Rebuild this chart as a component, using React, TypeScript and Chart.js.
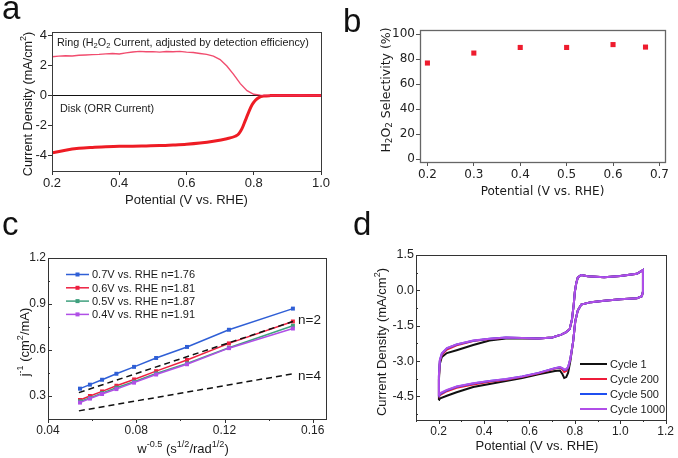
import React, { useEffect, useRef } from 'react';
import { Chart, registerables } from 'chart.js';
Chart.register(...registerables);

const SANS = '"Liberation Sans", Arial, sans-serif';
const VERD = '"DejaVu Sans", Verdana, sans-serif';

// ---------- Panel a: RRDE ----------
const A_RING_V = [0.20, 0.22, 0.24, 0.26, 0.28, 0.30, 0.32, 0.34, 0.36, 0.38, 0.40, 0.42, 0.44, 0.46, 0.48, 0.50, 0.52, 0.54, 0.56, 0.58, 0.60, 0.62, 0.64, 0.66, 0.68, 0.70, 0.72, 0.74, 0.76, 0.78, 0.80, 0.82, 0.84, 0.86, 0.88, 0.90, 0.92, 0.94, 0.96, 0.98, 1.00];
const A_RING_J = [2.56, 2.60, 2.63, 2.61, 2.66, 2.68, 2.70, 2.72, 2.75, 2.78, 2.74, 2.82, 2.88, 2.92, 2.89, 2.90, 2.87, 2.91, 2.89, 2.92, 2.87, 2.84, 2.78, 2.72, 2.60, 2.38, 1.95, 1.40, 0.78, 0.32, 0.08, 0.02, 0.00, -0.01, 0.00, 0.00, 0.00, 0.01, 0.00, 0.00, 0.00];
const A_DISK_V = [0.20, 0.24, 0.28, 0.32, 0.36, 0.40, 0.44, 0.48, 0.52, 0.56, 0.60, 0.64, 0.68, 0.72, 0.745, 0.755, 0.765, 0.775, 0.785, 0.795, 0.805, 0.815, 0.83, 0.85, 0.90, 0.95, 1.00];
const A_DISK_J = [-3.80, -3.62, -3.50, -3.44, -3.40, -3.37, -3.36, -3.34, -3.32, -3.28, -3.23, -3.15, -3.03, -2.86, -2.70, -2.55, -2.20, -1.65, -1.10, -0.62, -0.32, -0.14, -0.04, -0.01, 0.00, 0.00, 0.00];
const A_X_TICKS = [0.2, 0.4, 0.6, 0.8, 1.0];
const A_Y_TICKS = [-4, -2, 0, 2, 4];

// ---------- Panel b: selectivity ----------
const B_POTENTIAL = [0.2, 0.3, 0.4, 0.5, 0.6, 0.67];
const B_SELECTIVITY = [77, 85, 89.5, 89.5, 91.8, 89.8];
const B_X_TICKS = [0.2, 0.3, 0.4, 0.5, 0.6, 0.7];
const B_Y_TICKS = [0, 20, 40, 60, 80, 100];

// ---------- Panel c: K-L plots ----------
const C_OMEGA = [0.0545, 0.059, 0.0645, 0.071, 0.079, 0.089, 0.103, 0.122, 0.151];
const C_07V = [0.348, 0.374, 0.406, 0.445, 0.490, 0.548, 0.620, 0.732, 0.870];
const C_06V = [0.274, 0.300, 0.330, 0.367, 0.408, 0.462, 0.535, 0.643, 0.786];
const C_05V = [0.265, 0.287, 0.319, 0.354, 0.393, 0.447, 0.513, 0.615, 0.758];
const C_04V = [0.257, 0.283, 0.313, 0.345, 0.387, 0.440, 0.507, 0.612, 0.740];
const C_LABELS = ['0.7V vs. RHE n=1.76', '0.6V vs. RHE n=1.81', '0.5V vs. RHE n=1.87', '0.4V vs. RHE n=1.91'];
const C_COLORS = ['#2f5fd6', '#ee2040', '#3fa07e', '#b04fe6'];
const C_REF_X = [0.054, 0.151];
const C_N2_Y = [0.322, 0.786];
const C_N4_Y = [0.203, 0.445];
const C_X_TICKS = [0.04, 0.08, 0.12, 0.16];
const C_X_MINOR = [0.06, 0.10, 0.14];
const C_Y_TICKS = [0.3, 0.6, 0.9, 1.2];
const C_Y_MINOR = [0.45, 0.75, 1.05];

// ---------- Panel d: CV cycling ----------
const D_POT = [
  0.200, 0.201, 0.205, 0.214, 0.236, 0.279, 0.352, 0.424, 0.496, 0.568, 0.640, 0.700, 0.740, 0.760, 0.777, 0.787, 0.795, 0.800, 0.806, 0.813, 0.828, 0.857, 0.929, 1.000, 1.073, 1.100,
  1.100, 1.095, 1.073, 1.000, 0.929, 0.871, 0.828, 0.813, 0.802, 0.792, 0.780, 0.770, 0.762, 0.753, 0.745, 0.734, 0.712, 0.640, 0.568, 0.496, 0.424, 0.352, 0.279, 0.236, 0.207, 0.200,
];
const D_CYCLE1 = [
  -4.65, -3.80, -3.12, -2.82, -2.66, -2.54, -2.32, -2.13, -2.04, -2.03, -2.04, -2.00, -1.88, -1.78, -1.65, -1.25, -0.60, -0.05, 0.30, 0.55, 0.65, 0.60, 0.56, 0.61, 0.70, 0.86,
  -0.05, -0.25, -0.34, -0.38, -0.44, -0.50, -0.60, -0.85, -1.30, -2.20, -3.00, -3.50, -3.68, -3.72, -3.55, -3.40, -3.42, -3.56, -3.72, -3.85, -3.97, -4.10, -4.32, -4.47, -4.58, -4.65,
];
const D_CYCLE200 = [
  -4.53, -3.68, -3.02, -2.73, -2.51, -2.33, -2.15, -2.06, -2.01, -2.02, -2.04, -2.00, -1.88, -1.78, -1.65, -1.25, -0.60, -0.05, 0.30, 0.55, 0.65, 0.60, 0.56, 0.61, 0.70, 0.86,
  -0.05, -0.25, -0.34, -0.38, -0.44, -0.50, -0.60, -0.85, -1.30, -2.20, -2.92, -3.30, -3.42, -3.46, -3.36, -3.28, -3.32, -3.52, -3.67, -3.79, -3.88, -3.99, -4.13, -4.28, -4.43, -4.53,
];
const D_CYCLE500 = [
  -4.50, -3.62, -2.97, -2.68, -2.46, -2.30, -2.14, -2.05, -2.00, -2.02, -2.04, -2.00, -1.88, -1.78, -1.65, -1.25, -0.60, -0.05, 0.30, 0.55, 0.65, 0.60, 0.56, 0.61, 0.70, 0.86,
  -0.05, -0.25, -0.34, -0.38, -0.44, -0.50, -0.60, -0.85, -1.30, -2.20, -2.90, -3.27, -3.36, -3.38, -3.31, -3.26, -3.30, -3.50, -3.65, -3.77, -3.85, -3.95, -4.09, -4.24, -4.39, -4.50,
];
const D_CYCLE1000 = [
  -4.47, -3.60, -2.95, -2.67, -2.45, -2.29, -2.13, -2.05, -2.00, -2.02, -2.04, -2.00, -1.88, -1.78, -1.65, -1.25, -0.60, -0.05, 0.30, 0.55, 0.65, 0.60, 0.56, 0.61, 0.70, 0.86,
  -0.05, -0.25, -0.34, -0.38, -0.44, -0.50, -0.60, -0.85, -1.30, -2.20, -2.90, -3.25, -3.33, -3.36, -3.30, -3.25, -3.30, -3.50, -3.65, -3.76, -3.84, -3.94, -4.08, -4.22, -4.36, -4.47,
];
const D_LABELS = ['Cycle 1', 'Cycle 200', 'Cycle 500', 'Cycle 1000'];
const D_COLORS = ['#111111', '#ee1c3a', '#1f4ff0', '#b04ee8'];
const D_X_TICKS = [0.2, 0.4, 0.6, 0.8, 1.0, 1.2];
const D_X_MINOR = [0.1, 0.3, 0.5, 0.7, 0.9, 1.1];
const D_Y_TICKS = [-4.5, -3.0, -1.5, 0.0, 1.5];
const D_Y_MINOR = [-5.25, -3.75, -2.25, -0.75, 0.75];

// ---------- helpers ----------
type Seg = [string, number]; // 0 normal, 1 subscript, 2 superscript

function drawRich(ctx: CanvasRenderingContext2D, segs: Seg[], x: number, y: number, size: number, family: string, align: 'left' | 'center', rotate = false, color = '#1a1a1a') {
  ctx.save();
  ctx.translate(x, y);
  if (rotate) ctx.rotate(-Math.PI / 2);
  ctx.fillStyle = color;
  ctx.textBaseline = 'alphabetic';
  ctx.textAlign = 'left';
  const fontFor = (k: number) => `${k ? size * 0.7 : size}px ${family}`;
  let total = 0;
  const widths = segs.map(([t, k]) => {
    ctx.font = fontFor(k);
    const w = ctx.measureText(t).width;
    total += w;
    return w;
  });
  let cx = align === 'center' ? -total / 2 : 0;
  const base = size * 0.36;
  segs.forEach(([t, k], i) => {
    ctx.font = fontFor(k);
    const dy = k === 1 ? size * 0.22 : k === 2 ? -size * 0.42 : 0;
    ctx.fillText(t, cx, base + dy);
    cx += widths[i];
  });
  ctx.restore();
}

function letter(ctx: CanvasRenderingContext2D, t: string, x: number, y: number) {
  ctx.save();
  ctx.font = `33px ${SANS}`;
  ctx.fillStyle = '#111';
  ctx.textBaseline = 'alphabetic';
  ctx.textAlign = 'left';
  ctx.fillText(t, x, y);
  ctx.restore();
}

function frame(chart: any, color: string, w = 1) {
  const { ctx, chartArea: a } = chart;
  ctx.save();
  ctx.strokeStyle = color;
  ctx.lineWidth = w;
  ctx.strokeRect(Math.round(a.left) + 0.5, Math.round(a.top) + 0.5, Math.round(a.right - a.left), Math.round(a.bottom - a.top));
  ctx.restore();
}

function tickMarks(chart: any, xMaj: number[], xMin: number[], yMaj: number[], yMin: number[]) {
  const { ctx, chartArea: a, scales } = chart;
  ctx.save();
  ctx.strokeStyle = '#333';
  ctx.lineWidth = 1;
  ctx.beginPath();
  const xs = (vals: number[], len: number) => vals.forEach((v) => {
    const p = Math.round(scales.x.getPixelForValue(v)) + 0.5;
    ctx.moveTo(p, a.bottom);
    ctx.lineTo(p, a.bottom + len);
  });
  const ys = (vals: number[], len: number) => vals.forEach((v) => {
    const p = Math.round(scales.y.getPixelForValue(v)) + 0.5;
    ctx.moveTo(a.left, p);
    ctx.lineTo(a.left + len, p);
  });
  xs(xMaj, 4); xs(xMin, 2); ys(yMaj, 4); ys(yMin, 2);
  ctx.stroke();
  ctx.restore();
}

const pts = (xs: number[], ys: number[]) => xs.map((x, i) => ({ x, y: ys[i] }));
const setTicks = (vals: number[]) => (s: any) => { s.ticks = vals.map((value) => ({ value })); };

const baseOpts = {
  responsive: false,
  animation: false as const,
  events: [] as any[],
};

export default function App() {
  const refA = useRef<HTMLCanvasElement>(null);
  const refB = useRef<HTMLCanvasElement>(null);
  const refC = useRef<HTMLCanvasElement>(null);
  const refD = useRef<HTMLCanvasElement>(null);

  useEffect(() => {
    const charts: Chart[] = [];

    // ---- a ----
    charts.push(new Chart(refA.current!, {
      type: 'scatter',
      data: {
        datasets: [
          { data: pts(A_RING_V, A_RING_J), showLine: true, borderColor: 'rgba(238,45,85,0.85)', borderWidth: 1.4, pointRadius: 0, tension: 0 },
          { data: pts(A_DISK_V, A_DISK_J), showLine: true, borderColor: '#ee1c24', borderWidth: 3, pointRadius: 0, cubicInterpolationMode: 'monotone' },
        ],
      },
      options: {
        ...baseOpts,
        layout: { padding: { top: 32, right: 19, left: 0, bottom: 0 } },
        plugins: { legend: { display: false }, tooltip: { enabled: false } },
        scales: {
          x: {
            type: 'linear', min: 0.2, max: 1.0,
            afterBuildTicks: setTicks(A_X_TICKS),
            afterFit: (s: any) => { s.height = 44; },
            ticks: { font: { family: SANS, size: 13 }, color: '#222', padding: 1, maxRotation: 0, autoSkip: false, callback: (v: any) => Number(v).toFixed(1) },
            grid: { drawOnChartArea: false, tickLength: 4, tickColor: '#333' },
            border: { display: false },
          },
          y: {
            type: 'linear', min: -5, max: 4.2,
            afterBuildTicks: setTicks(A_Y_TICKS),
            afterFit: (s: any) => { s.width = 52; },
            ticks: { font: { family: SANS, size: 13 }, color: '#222', padding: 1, autoSkip: false, callback: (v: any) => String(v) },
            grid: { color: (c: any) => (c.tick && c.tick.value === 0 ? '#111' : 'rgba(0,0,0,0)'), tickColor: '#333', tickLength: 4 },
            border: { display: false },
          },
        },
      } as any,
      plugins: [{
        id: 'decoA',
        afterDraw(chart: any) {
          const { ctx, chartArea: a } = chart;
          frame(chart, '#3a3a3a');
          letter(ctx, 'a', 2, 19);
          drawRich(ctx, [['Potential (V vs. RHE)', 0]], (a.left + a.right) / 2, 199, 13, SANS, 'center');
          drawRich(ctx, [['Current Density (mA/cm', 0], ['2', 2], [')', 0]], 27, 104, 12.7, SANS, 'center', true);
          drawRich(ctx, [['Ring (H', 0], ['2', 1], ['O', 0], ['2', 1], [' Current, adjusted by detection efficiency)', 0]], 57, 42, 10.8, SANS, 'left');
          drawRich(ctx, [['Disk (ORR Current)', 0]], 60, 108, 10.8, SANS, 'left');
        },
      }],
    }));

    // ---- b ----
    charts.push(new Chart(refB.current!, {
      type: 'scatter',
      data: {
        datasets: [
          { data: pts(B_POTENTIAL, B_SELECTIVITY), pointStyle: 'rect', pointRadius: 3.6, backgroundColor: '#ee1c2e', borderWidth: 0 },
        ],
      },
      options: {
        ...baseOpts,
        layout: { padding: { top: 30, right: 13, left: 0, bottom: 0 } },
        plugins: { legend: { display: false }, tooltip: { enabled: false } },
        scales: {
          x: {
            type: 'linear', min: 0.184, max: 0.712,
            afterBuildTicks: setTicks(B_X_TICKS),
            afterFit: (s: any) => { s.height = 53; },
            ticks: { font: { family: VERD, size: 12 }, color: '#222', padding: 2, maxRotation: 0, autoSkip: false, callback: (v: any) => Number(v).toFixed(1) },
            grid: { drawOnChartArea: false, tickLength: 4, tickColor: '#555' },
            border: { display: false },
          },
          y: {
            type: 'linear', min: -2.4, max: 103.5,
            afterBuildTicks: setTicks(B_Y_TICKS),
            afterFit: (s: any) => { s.width = 80; },
            ticks: { font: { family: VERD, size: 12 }, color: '#222', padding: 1, autoSkip: false, callback: (v: any) => String(v) },
            grid: { drawOnChartArea: false, tickLength: 4, tickColor: '#555' },
            border: { display: false },
          },
        },
      } as any,
      plugins: [{
        id: 'decoB',
        afterDraw(chart: any) {
          const { ctx, chartArea: a } = chart;
          frame(chart, '#666', 1.3);
          letter(ctx, 'b', 3, 32);
          drawRich(ctx, [['Potential (V vs. RHE)', 0]], (a.left + a.right) / 2, 191, 12, VERD, 'center');
          drawRich(ctx, [['H', 0], ['2', 1], ['O', 0], ['2', 1], [' Selectivity (%)', 0]], 45, 90, 12.5, VERD, 'center', true);
        },
      }],
    }));

    // ---- c ----
    const cSeries = [C_07V, C_06V, C_05V, C_04V];
    charts.push(new Chart(refC.current!, {
      type: 'scatter',
      data: {
        datasets: [
          ...cSeries.map((ys, i) => ({
            data: pts(C_OMEGA, ys), showLine: true, borderColor: C_COLORS[i], backgroundColor: C_COLORS[i],
            borderWidth: 1.5, pointStyle: 'rect', pointRadius: 2.8, pointBorderWidth: 0, order: 10 - i,
          })),
          { data: pts(C_REF_X, C_N2_Y), showLine: true, borderColor: '#111', borderWidth: 1.5, borderDash: [6, 4], pointRadius: 0, order: 1 },
          { data: pts(C_REF_X, C_N4_Y), showLine: true, borderColor: '#111', borderWidth: 1.5, borderDash: [6, 4], pointRadius: 0, order: 1 },
        ],
      },
      options: {
        ...baseOpts,
        layout: { padding: { top: 58, right: 14, left: 0, bottom: 0 } },
        plugins: { legend: { display: false }, tooltip: { enabled: false } },
        scales: {
          x: {
            type: 'linear', min: 0.04, max: 0.166,
            afterBuildTicks: setTicks(C_X_TICKS),
            afterFit: (s: any) => { s.height = 39; },
            ticks: { font: { family: SANS, size: 12 }, color: '#222', padding: 4, maxRotation: 0, autoSkip: false, callback: (v: any) => Number(v).toFixed(2) },
            grid: { display: false, drawTicks: false },
            border: { display: false },
          },
          y: {
            type: 'linear', min: 0.15, max: 1.2,
            afterBuildTicks: setTicks(C_Y_TICKS),
            afterFit: (s: any) => { s.width = 48; },
            ticks: { font: { family: SANS, size: 12 }, color: '#222', padding: 2, autoSkip: false, callback: (v: any) => Number(v).toFixed(1) },
            grid: { display: false, drawTicks: false },
            border: { display: false },
          },
        },
      } as any,
      plugins: [{
        id: 'decoC',
        afterDraw(chart: any) {
          const { ctx } = chart;
          frame(chart, '#333');
          tickMarks(chart, C_X_TICKS, C_X_MINOR, C_Y_TICKS, C_Y_MINOR);
          letter(ctx, 'c', 2, 35);
          drawRich(ctx, [['w', 0], ['-0.5', 2], [' (s', 0], ['1/2', 2], ['/rad', 0], ['1/2', 2], [')', 0]], 183, 248, 13, SANS, 'center');
          drawRich(ctx, [['j', 0], ['-1', 2], [' (cm', 0], ['2', 2], ['/mA)', 0]], 24, 142, 13, SANS, 'center', true);
          C_LABELS.forEach((t, i) => {
            const y = 74.5 + i * 13.3;
            ctx.save();
            ctx.strokeStyle = C_COLORS[i];
            ctx.lineWidth = 1.5;
            ctx.beginPath();
            ctx.moveTo(66, y);
            ctx.lineTo(89, y);
            ctx.stroke();
            ctx.fillStyle = C_COLORS[i];
            ctx.fillRect(75.5, y - 2, 4, 4);
            ctx.restore();
            drawRich(ctx, [[t, 0]], 92, y, 11, SANS, 'left');
          });
          drawRich(ctx, [['n=2', 0]], 298, 119, 13.5, SANS, 'left');
          drawRich(ctx, [['n=4', 0]], 298, 175, 13.5, SANS, 'left');
        },
      }],
    }));

    // ---- d ----
    const dSeries = [D_CYCLE1, D_CYCLE200, D_CYCLE500, D_CYCLE1000];
    charts.push(new Chart(refD.current!, {
      type: 'scatter',
      data: {
        datasets: dSeries.map((ys, i) => ({
          data: pts(D_POT, ys), showLine: true, borderColor: D_COLORS[i], borderWidth: 2,
          pointRadius: 0, tension: 0, order: 4 - i,
        })),
      },
      options: {
        ...baseOpts,
        layout: { padding: { top: 55, right: 9, left: 0, bottom: 0 } },
        plugins: { legend: { display: false }, tooltip: { enabled: false } },
        scales: {
          x: {
            type: 'linear', min: 0.1, max: 1.2,
            afterBuildTicks: setTicks(D_X_TICKS),
            afterFit: (s: any) => { s.height = 38; },
            ticks: { font: { family: SANS, size: 12 }, color: '#222', padding: 4, maxRotation: 0, autoSkip: false, callback: (v: any) => Number(v).toFixed(1) },
            grid: { display: false, drawTicks: false },
            border: { display: false },
          },
          y: {
            type: 'linear', min: -5.5, max: 1.5,
            afterBuildTicks: setTicks(D_Y_TICKS),
            afterFit: (s: any) => { s.width = 76; },
            ticks: { font: { family: SANS, size: 12.5 }, color: '#222', padding: 2, autoSkip: false, callback: (v: any) => Number(v).toFixed(1) },
            grid: { display: false, drawTicks: false },
            border: { display: false },
          },
        },
      } as any,
      plugins: [{
        id: 'decoD',
        afterDraw(chart: any) {
          const { ctx } = chart;
          frame(chart, '#333');
          tickMarks(chart, D_X_TICKS, D_X_MINOR, D_Y_TICKS, D_Y_MINOR);
          letter(ctx, 'd', 13, 35);
          drawRich(ctx, [['Potential (V vs. RHE)', 0]], 197, 245, 13, SANS, 'center');
          drawRich(ctx, [['Current Density (mA/cm', 0], ['2', 2], [')', 0]], 41, 142, 13, SANS, 'center', true);
          D_LABELS.forEach((t, i) => {
            const y = 164 + i * 15;
            ctx.save();
            ctx.strokeStyle = D_COLORS[i];
            ctx.lineWidth = 2;
            ctx.beginPath();
            ctx.moveTo(240, y);
            ctx.lineTo(267, y);
            ctx.stroke();
            ctx.restore();
            drawRich(ctx, [[t, 0]], 270, y, 11, SANS, 'left');
          });
        },
      }],
    }));

    return () => { charts.forEach((c) => c.destroy()); };
  }, []);

  const cv = (left: number, top: number, w: number, h: number) => ({
    position: 'absolute' as const, left, top, width: w, height: h, display: 'block',
  });

  return (
    <div style={{ position: 'fixed', left: 0, top: 0, width: 678, height: 458, background: '#fff', overflow: 'hidden' }}>
      <canvas ref={refA} width={340} height={215} style={cv(0, 0, 340, 215)} />
      <canvas ref={refB} width={338} height={215} style={cv(340, 0, 338, 215)} />
      <canvas ref={refC} width={340} height={258} style={cv(0, 200, 340, 258)} />
      <canvas ref={refD} width={338} height={258} style={cv(340, 200, 338, 258)} />
    </div>
  );
}
